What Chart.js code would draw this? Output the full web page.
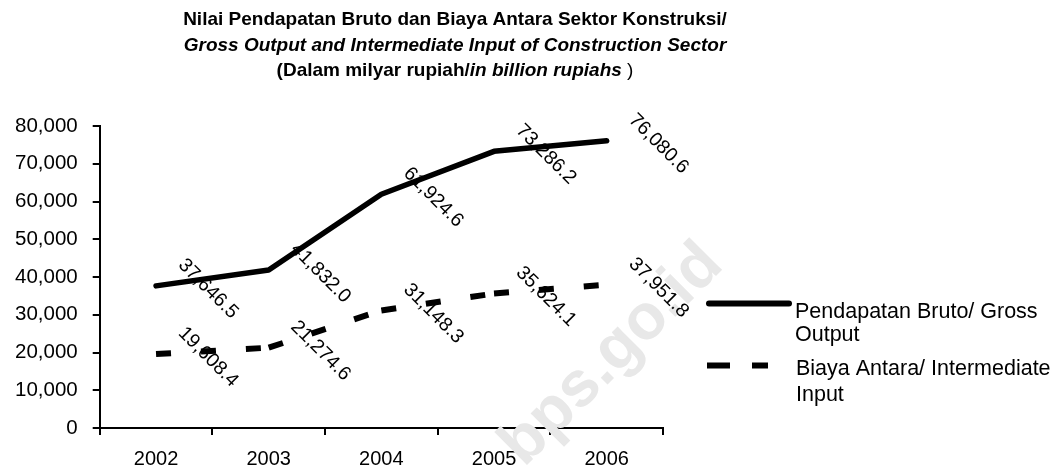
<!DOCTYPE html>
<html>
<head>
<meta charset="utf-8">
<script src="https://cdn.jsdelivr.net/npm/chart.js@4.4.1/dist/chart.umd.min.js"></script>
<style>
  html, body { margin: 0; padding: 0; background: #fff; }
  #wrap { position: relative; width: 1053px; height: 470px; }
</style>
</head>
<body>
<div id="wrap"><canvas id="c" width="1053" height="470"></canvas></div>
<script>
const categories = ['2002', '2003', '2004', '2005', '2006'];
const grossOutput = [37646.5, 41832.0, 61924.6, 73286.2, 76080.6];
const intermediateInput = [19608.4, 21274.6, 31148.3, 35624.1, 37951.8];
const seriesNames = [
  ['Pendapatan Bruto/ Gross', 'Output'],
  ['Biaya Antara/ Intermediate', 'Input']
];
const titleLine1 = 'Nilai Pendapatan Bruto dan Biaya Antara Sektor Konstruksi/';
const titleLine2 = 'Gross Output and Intermediate Input of Construction Sector';
const titleLine3a = '(Dalam milyar rupiah/';
const titleLine3b = 'in billion rupiahs';
const titleLine3c = ' )';
const watermark = 'bps.go.id';

const FONT = '"Liberation Sans", Arial, Helvetica, sans-serif';

function fmt(v) {
  return v.toLocaleString('en-US', { minimumFractionDigits: 1, maximumFractionDigits: 1 });
}

const decorPlugin = {
  id: 'decor',
  beforeDatasetsDraw(chart) {
    const ctx = chart.ctx;
    ctx.save();
    ctx.translate(612, 355);
    ctx.rotate(-Math.PI / 4);
    ctx.font = 'bold 64px ' + FONT;
    ctx.fillStyle = '#e8e8e8';
    ctx.textAlign = 'center';
    ctx.textBaseline = 'middle';
    ctx.fillText(watermark, 0, 0);
    ctx.restore();
  },
  afterDatasetsDraw(chart) {
    const ctx = chart.ctx;
    ctx.save();
    ctx.font = '19.5px ' + FONT;
    ctx.fillStyle = '#000';
    ctx.textAlign = 'center';
    ctx.textBaseline = 'middle';
    chart.data.datasets.forEach((ds, di) => {
      const meta = chart.getDatasetMeta(di);
      meta.data.forEach((pt, i) => {
        ctx.save();
        ctx.translate(pt.x + 52, pt.y + 3);
        ctx.rotate(Math.PI / 4);
        ctx.fillText(fmt(ds.data[i]), 0, 0);
        ctx.restore();
      });
    });
    ctx.restore();
  },
  afterDraw(chart) {
    const ctx = chart.ctx;
    ctx.save();
    ctx.fillStyle = '#000';
    ctx.textBaseline = 'middle';
    ctx.textAlign = 'center';
    const cx = 455;
    ctx.font = 'bold 19px ' + FONT;
    ctx.fillText(titleLine1, cx, 20);
    ctx.font = 'italic bold 19px ' + FONT;
    ctx.fillText(titleLine2, cx, 46);
    ctx.textAlign = 'left';
    const fA = 'bold 19px ' + FONT, fB = 'italic bold 19px ' + FONT, fC = '19px ' + FONT;
    ctx.font = fA; const wA = ctx.measureText(titleLine3a).width;
    ctx.font = fB; const wB = ctx.measureText(titleLine3b).width;
    ctx.font = fC; const wC = ctx.measureText(titleLine3c).width;
    let x = cx - (wA + wB + wC) / 2;
    ctx.font = fA; ctx.fillText(titleLine3a, x, 71); x += wA;
    ctx.font = fB; ctx.fillText(titleLine3b, x, 71); x += wB;
    ctx.font = fC; ctx.fillText(titleLine3c, x, 71);

    // legend
    ctx.strokeStyle = '#000';
    ctx.lineWidth = 6;
    ctx.lineCap = 'round';
    ctx.beginPath(); ctx.moveTo(709, 303.5); ctx.lineTo(789, 303.5); ctx.stroke();
    ctx.lineCap = 'butt';
    ctx.setLineDash([23, 22]);
    ctx.beginPath(); ctx.moveTo(707, 365.5); ctx.lineTo(768, 365.5); ctx.stroke();
    ctx.setLineDash([]);
    ctx.font = '21.5px ' + FONT;
    ctx.textBaseline = 'alphabetic';
    ctx.fillText(seriesNames[0][0], 795, 318);
    ctx.fillText(seriesNames[0][1], 795, 341);
    ctx.fillText(seriesNames[1][0], 796, 375);
    ctx.fillText(seriesNames[1][1], 796, 401);
    ctx.restore();
  }
};

new Chart(document.getElementById('c'), {
  type: 'line',
  data: {
    labels: categories,
    datasets: [
      {
        label: seriesNames[0].join(' '),
        data: grossOutput,
        borderColor: '#000',
        borderWidth: 5.5,
        borderCapStyle: 'round',
        borderJoinStyle: 'round',
        pointRadius: 0,
        tension: 0,
        fill: false
      },
      {
        label: seriesNames[1].join(' '),
        data: intermediateInput,
        borderColor: '#000',
        borderWidth: 6,
        borderDash: [15, 30],
        borderCapStyle: 'butt',
        pointRadius: 0,
        tension: 0,
        fill: false,
        segment: {
          borderDashOffset: c => c.p0DataIndex * 45
        }
      }
    ]
  },
  options: {
    responsive: false,
    animation: false,
    devicePixelRatio: 1,
    layout: { padding: { top: 126, left: 0, right: 390, bottom: -13 } },
    plugins: {
      legend: { display: false },
      title: { display: false },
      tooltip: { enabled: false }
    },
    scales: {
      x: {
        offset: true,
        grid: { offset: true, drawOnChartArea: false, drawTicks: true, tickLength: 7, color: '#000', lineWidth: 2 },
        border: { display: true, color: '#000', width: 2 },
        ticks: { color: '#000', font: { family: FONT, size: 20 }, padding: 12, maxRotation: 0 }
      },
      y: {
        min: 0,
        max: 80000,
        grid: { drawOnChartArea: false, drawTicks: true, tickLength: 7, color: '#000', lineWidth: 2 },
        border: { display: true, color: '#000', width: 2 },
        ticks: { stepSize: 10000, color: '#000', font: { family: FONT, size: 20.5 }, padding: 15 }
      }
    }
  },
  plugins: [decorPlugin]
});
</script>
</body>
</html>
